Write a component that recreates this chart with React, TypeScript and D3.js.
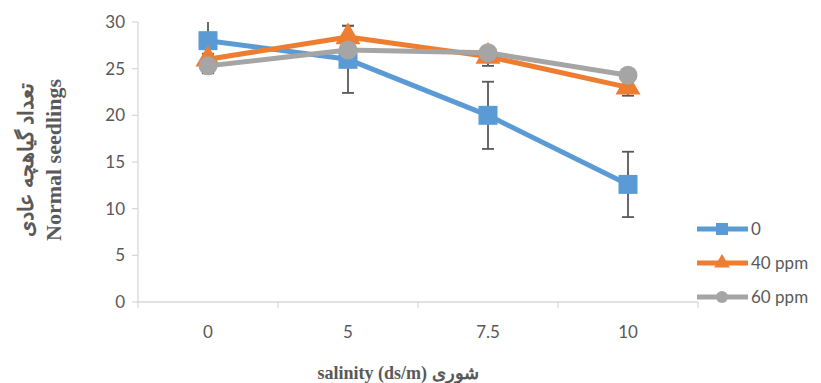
import { useEffect, useRef } from 'react'
import * as d3 from 'd3'

const categories = ['0', '5', '7.5', '10']
const yTicks = [0, 5, 10, 15, 20, 25, 30]

const series0 = [28.0, 26.0, 20.0, 12.6]
const series40 = [26.0, 28.4, 26.3, 23.0]
const series60 = [25.3, 27.0, 26.7, 24.3]

const err0 = [3.5, 3.6, 3.6, 3.5]
const err40 = [0.6, 1.2, 1.0, 0.9]
const err60 = [0.3, 0.3, 0.3, 0.3]

const seriesNames = ['0', '40 ppm', '60 ppm']

export default function App() {
  const svgRef = useRef<SVGSVGElement>(null)

  const width = 821
  const height = 383
  const left = 138
  const right = 698
  const top = 22
  const bottom = 302

  useEffect(() => {
    const svg = d3.select(svgRef.current)
    svg.selectAll('*').remove()

    const x = d3.scaleBand().domain(categories).range([left, right])
    const y = d3.scaleLinear().domain([0, 30]).range([bottom, top])
    const cx = (c: string) => (x(c) as number) + x.bandwidth() / 2

    const axisColor = '#d9d9d9'
    const textColor = '#595959'
    const font = 'Lato, "Open Sans", sans-serif'

    // axes
    svg.append('line')
      .attr('x1', left).attr('x2', left).attr('y1', top).attr('y2', bottom)
      .attr('stroke', axisColor).attr('stroke-width', 1.3)
    svg.append('line')
      .attr('x1', left).attr('x2', right).attr('y1', bottom).attr('y2', bottom)
      .attr('stroke', axisColor).attr('stroke-width', 1.3)

    yTicks.forEach(t => {
      svg.append('line')
        .attr('x1', left - 6).attr('x2', left).attr('y1', y(t)).attr('y2', y(t))
        .attr('stroke', axisColor).attr('stroke-width', 1.3)
      svg.append('text')
        .attr('x', left - 13).attr('y', y(t)).attr('dy', '0.35em')
        .attr('text-anchor', 'end').attr('font-family', font).attr('font-size', 17)
        .attr('fill', textColor).text(t)
    })

    const bounds = categories.map(c => x(c) as number).concat([right])
    bounds.forEach(b => {
      svg.append('line')
        .attr('x1', b).attr('x2', b).attr('y1', bottom).attr('y2', bottom + 6)
        .attr('stroke', axisColor).attr('stroke-width', 1.3)
    })
    categories.forEach(c => {
      svg.append('text')
        .attr('x', cx(c)).attr('y', 332).attr('dy', '0.35em')
        .attr('text-anchor', 'middle').attr('font-family', font).attr('font-size', 17)
        .attr('fill', textColor).text(c)
    })

    // titles
    const titleFont = '"Liberation Serif", "DejaVu Serif", serif'
    svg.append('text')
      .attr('x', 398).attr('y', 379)
      .attr('text-anchor', 'middle').attr('font-family', titleFont).attr('font-size', 18)
      .attr('font-weight', 'bold').attr('fill', textColor)
      .text('salinity (ds/m) شوری')
    const yt = svg.append('g').attr('transform', 'translate(0,160) rotate(-90)')
    yt.append('text')
      .attr('x', 0).attr('y', 33).attr('text-anchor', 'middle')
      .attr('font-family', titleFont).attr('font-size', 21).attr('font-weight', 'bold')
      .attr('fill', textColor).text('تعداد گیاهچه عادی')
    yt.append('text')
      .attr('x', 0).attr('y', 61).attr('text-anchor', 'middle')
      .attr('font-family', titleFont).attr('font-size', 22).attr('font-weight', 'bold')
      .attr('fill', textColor).text('Normal seedlings')

    const all = [
      { vals: series0, err: err0, color: '#5B9BD5', shape: 'square' },
      { vals: series40, err: err40, color: '#ED7D31', shape: 'triangle' },
      { vals: series60, err: err60, color: '#A5A5A5', shape: 'circle' },
    ]

    const line = d3.line<number>()
      .x((_, i) => cx(categories[i]))
      .y(d => y(d))

    const drawMarker = (g: any, shape: string, px: number, py: number, color: string, s: number) => {
      if (shape === 'square') {
        g.append('rect').attr('x', px - s / 2).attr('y', py - s / 2)
          .attr('width', s).attr('height', s).attr('fill', color)
      } else if (shape === 'triangle') {
        g.append('path').attr('d', d3.symbol(d3.symbolTriangle, s * s * 0.75)())
          .attr('transform', `translate(${px},${py})`).attr('fill', color)
      } else {
        g.append('circle').attr('cx', px).attr('cy', py).attr('r', s / 2).attr('fill', color)
      }
    }

    const clamp = (v: number) => Math.max(0, Math.min(30, v))

    all.forEach(sr => {
      const g = svg.append('g')
      // error bars
      sr.vals.forEach((v, i) => {
        const px = cx(categories[i])
        const hi = v + sr.err[i]
        const lo = v - sr.err[i]
        g.append('line')
          .attr('x1', px).attr('x2', px).attr('y1', y(clamp(hi))).attr('y2', y(clamp(lo)))
          .attr('stroke', '#595959').attr('stroke-width', 1.8)
        ;[hi, lo].forEach(e => {
          if (e <= 30) {
            g.append('line')
              .attr('x1', px - 6).attr('x2', px + 6).attr('y1', y(e)).attr('y2', y(e))
              .attr('stroke', '#595959').attr('stroke-width', 1.8)
          }
        })
      })
      g.append('path').datum(sr.vals).attr('d', line as any)
        .attr('fill', 'none').attr('stroke', sr.color).attr('stroke-width', 5)
        .attr('stroke-linejoin', 'round')
      sr.vals.forEach((v, i) => {
        drawMarker(g, sr.shape, cx(categories[i]), y(v), sr.color, 19)
      })
    })

    // legend
    const legY = [229, 263, 297]
    all.forEach((sr, i) => {
      const g = svg.append('g')
      g.append('line').attr('x1', 697).attr('x2', 748).attr('y1', legY[i]).attr('y2', legY[i])
        .attr('stroke', sr.color).attr('stroke-width', 5)
      drawMarker(g, sr.shape, 722, legY[i], sr.color, 12)
      g.append('text').attr('x', 751).attr('y', legY[i]).attr('dy', '0.35em')
        .attr('font-family', font).attr('font-size', 17).attr('fill', textColor)
        .text(seriesNames[i])
    })
  }, [])

  return (
    <svg
      ref={svgRef}
      width={width}
      height={height}
      style={{ position: 'absolute', left: 0, top: 0, background: '#fff' }}
    />
  )
}
